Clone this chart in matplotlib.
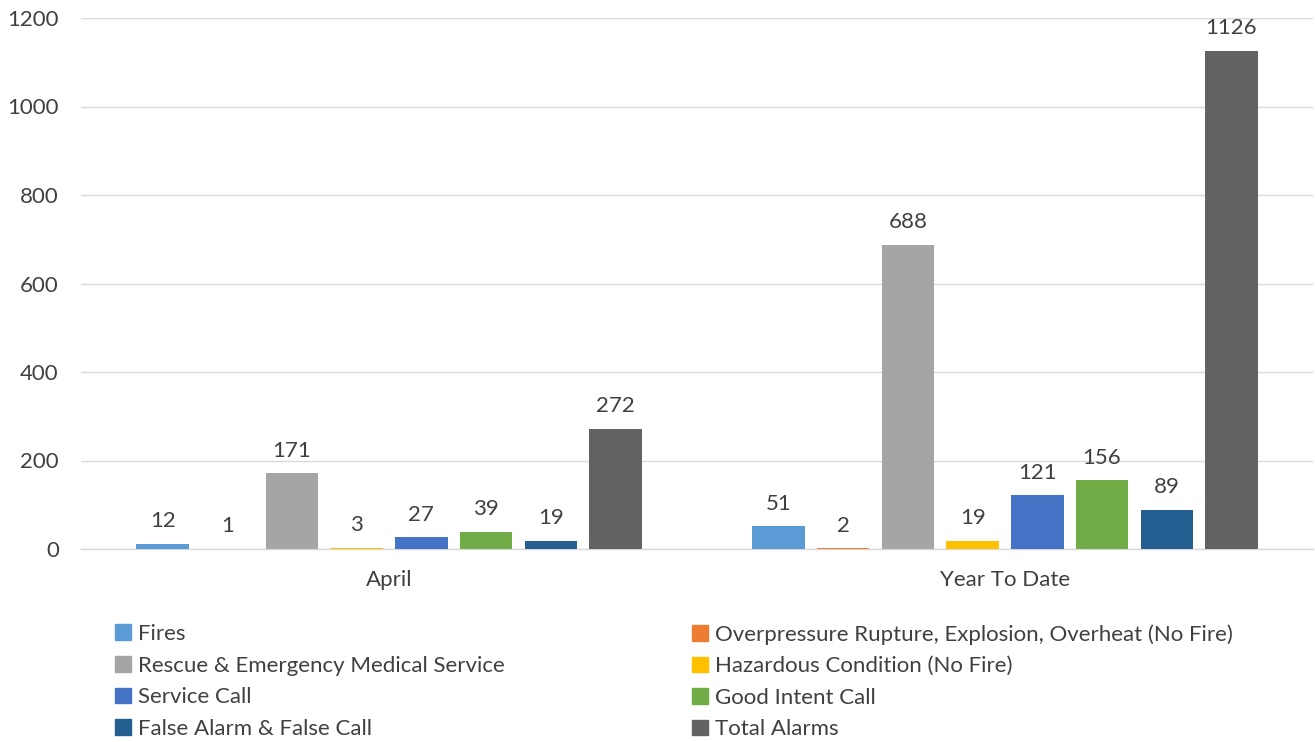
import matplotlib
matplotlib.use("Agg")
import matplotlib.pyplot as plt
from matplotlib.patches import Patch
import numpy as np

plt.rcParams['font.family'] = ['Lato', 'DejaVu Sans']

categories = ["April", "Year To Date"]
series_names = [
    "Fires",
    "Overpressure Rupture, Explosion, Overheat (No Fire)",
    "Rescue & Emergency Medical Service",
    "Hazardous Condition (No Fire)",
    "Service Call",
    "Good Intent Call",
    "False Alarm & False Call",
    "Total Alarms",
]
april = [12, 1, 171, 3, 27, 39, 19, 272]
ytd = [51, 2, 688, 19, 121, 156, 89, 1126]
colors = ["#5B9BD5", "#ED7D31", "#A5A5A5", "#FFC000", "#4472C4", "#70AD47", "#255E91", "#636363"]
yticks = [0, 200, 400, 600, 800, 1000, 1200]

txt = "#404040"
fs = 16
fig = plt.figure(figsize=(13.15, 7.42), dpi=100)
ax = fig.add_axes([81/1315, 1-549/742, 1232/1315, 531/742])

values = np.array([april, ytd])
n = len(series_names)
slot = 0.105
width = 0.085
x = np.arange(len(categories))
for i in range(n):
    pos = x + (i - (n-1)/2) * slot
    bars = ax.bar(pos, values[:, i], width=width, color=colors[i], zorder=3)
    for b, v in zip(bars, values[:, i]):
        ax.text(b.get_x() + b.get_width()/2, v + 28, str(v), ha="center", va="bottom",
                fontsize=fs, color=txt)

ax.set_xlim(-0.5, 1.5)
ax.set_ylim(0, 1200)
ax.set_yticks(yticks)
ax.set_yticklabels([str(t) for t in yticks], fontsize=fs, color=txt)
ax.set_xticks(x)
ax.set_xticklabels(categories, fontsize=fs, color=txt)
ax.tick_params(axis="x", length=0, pad=15)
ax.tick_params(axis="y", length=0, pad=16)
ax.grid(axis="y", color="#D9D9D9", linewidth=1, zorder=0)
for s in ["top", "right", "left"]:
    ax.spines[s].set_visible(False)
ax.spines["bottom"].set_color("#D9D9D9")
ax.spines["bottom"].set_linewidth(1)

handles = [Patch(color=c) for c in colors]
left_idx = [0, 2, 4, 6]
right_idx = [1, 3, 5, 7]
for idx, xa in [(left_idx, 115/1315), (right_idx, 692/1315)]:
    leg = fig.legend([handles[i] for i in idx], [series_names[i] for i in idx],
                     loc="upper left", bbox_to_anchor=(xa, 1-624/742), frameon=False,
                     fontsize=fs, handlelength=0.7, handleheight=0.7, handletextpad=0.35,
                     labelspacing=0.52, borderaxespad=0, borderpad=0)
    for t in leg.get_texts():
        t.set_color(txt)

fig.savefig("out.png", dpi=100)
